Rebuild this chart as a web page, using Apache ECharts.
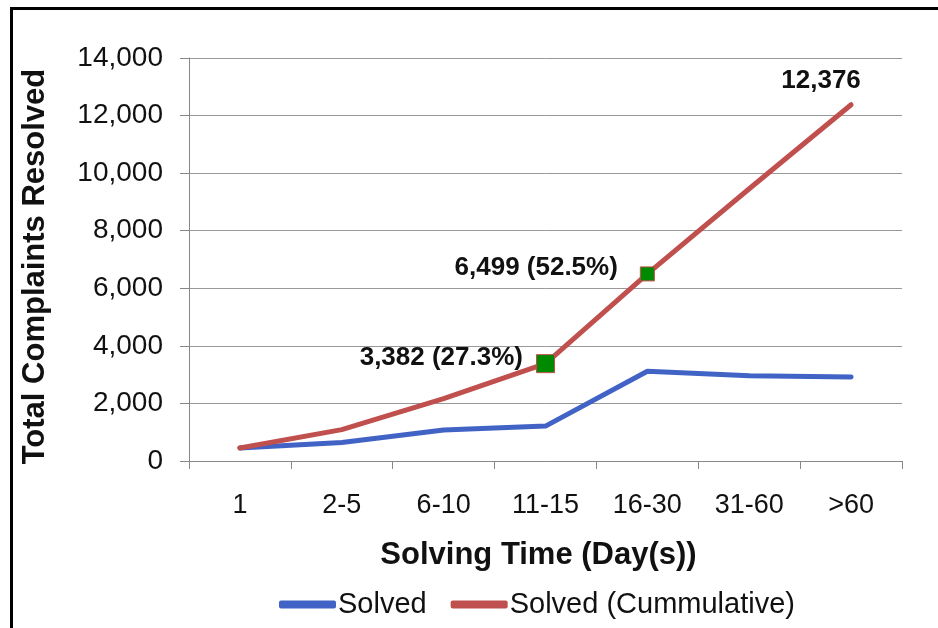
<!DOCTYPE html>
<html>
<head>
<meta charset="utf-8">
<script src="https://cdn.jsdelivr.net/npm/echarts@6/dist/echarts.min.js"></script>
<style>
html,body{margin:0;padding:0;background:#fff;}
#chart{width:938px;height:628px;}
</style>
</head>
<body>
<div id="chart"></div>
<script>
const categories = ['1', '2-5', '6-10', '11-15', '16-30', '31-60', '>60'];
const solved = [450, 640, 1080, 1212, 3117, 2960, 2917];
const cumulative = [450, 1090, 2170, 3382, 6499, 9459, 12376];
const yTicks = [0, 2000, 4000, 6000, 8000, 10000, 12000, 14000];
const annotations = {3: '3,382 (27.3%)', 4: '6,499 (52.5%)', 6: '12,376'};

const FONT = '"Liberation Sans", Arial, sans-serif';
const chart = echarts.init(document.getElementById('chart'));

const cumData = cumulative.map((v, i) => {
  const item = {value: v, symbolSize: 0};
  if (i === 3 || i === 4) {
    item.symbol = 'rect';
    item.symbolSize = i === 3 ? 18 : 14;
    item.itemStyle = {color: '#008a00', borderColor: '#c0504d', borderWidth: 1};
    item.label = {show: true, position: 'left', distance: i === 3 ? 13 : 22, offset: [0, -6],
      formatter: annotations[i]};
  }
  if (i === 6) {
    item.label = {show: true, position: 'top', distance: 11, offset: [-30, 0], formatter: annotations[i]};
  }
  return item;
});

chart.setOption({
  animation: false,
  textStyle: {fontFamily: FONT},
  graphic: [{
    type: 'rect', shape: {x: 11.5, y: 8.5, width: 1000, height: 700},
    style: {fill: 'none', stroke: '#000', lineWidth: 3}, silent: true
  }],
  grid: {left: 189, right: 36, top: 58, bottom: 167, containLabel: false},
  legend: {
    bottom: 4, left: 274,
    itemWidth: 57, itemHeight: 8, itemGap: 24,
    icon: 'roundRect',
    textStyle: {fontSize: 29, color: '#111', fontFamily: FONT, padding: [0, 0, 0, -3]},
    data: ['Solved', 'Solved (Cummulative)']
  },
  xAxis: {
    type: 'category', data: categories, boundaryGap: true,
    name: 'Solving Time (Day(s))', nameLocation: 'middle', nameGap: 79,
    nameTextStyle: {fontSize: 31, fontWeight: 'bold', color: '#111', fontFamily: FONT, padding: [0, 14, 0, 0]},
    axisLine: {lineStyle: {color: '#888', width: 1}},
    axisTick: {show: true, length: 8, lineStyle: {color: '#888'}},
    axisLabel: {fontSize: 27, color: '#111', margin: 31, fontFamily: FONT},
    splitLine: {show: false}
  },
  yAxis: {
    type: 'value', min: 0, max: 14000, interval: 2000,
    name: 'Total Complaints Resolved', nameLocation: 'middle', nameGap: 138,
    nameTextStyle: {fontSize: 31, fontWeight: 'bold', color: '#111', fontFamily: FONT, padding: [0, 14, 0, 0]},
    axisLine: {show: true, lineStyle: {color: '#888', width: 1}},
    axisTick: {show: true, inside: false, length: 9, lineStyle: {color: '#888'}},
    axisLabel: {fontSize: 28, color: '#111', margin: 26, fontFamily: FONT,
      formatter: v => yTicks.includes(v) ? v.toLocaleString('en-US') : ''},
    splitLine: {show: true, lineStyle: {color: '#999', width: 1}}
  },
  series: [
    {
      name: 'Solved', type: 'line', data: solved,
      symbol: 'none', smooth: false,
      lineStyle: {color: '#4263c6', width: 5, cap: 'round', join: 'round'},
      itemStyle: {color: '#4263c6'},
      z: 2
    },
    {
      name: 'Solved (Cummulative)', type: 'line', data: cumData,
      symbol: 'rect', showSymbol: true, smooth: false,
      lineStyle: {color: '#c0504d', width: 5, cap: 'round', join: 'round'},
      itemStyle: {color: '#c0504d'},
      label: {fontSize: 26, fontWeight: 'bold', color: '#111', fontFamily: FONT},
      emphasis: {disabled: true},
      z: 3
    }
  ]
});
</script>
</body>
</html>
